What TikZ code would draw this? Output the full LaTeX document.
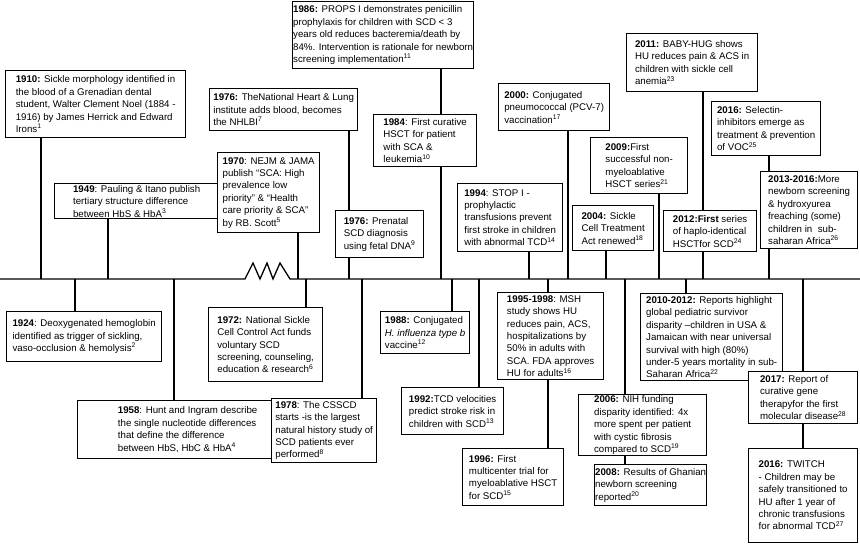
\documentclass[tikz,border=0pt]{standalone}
\usepackage{fontspec}
\setmainfont{Liberation Sans}
\newcommand\rf[1]{\textsuperscript{#1}}
\newcommand\evbox[6]{\node[box,minimum width={#4-#2},minimum height={#5-#3}] (#1) at (#2,#3) {#6};}
\begin{document}
\begin{tikzpicture}[x=1pt,y=-1pt,
  box/.style={draw, line width=1.3pt, fill=white, anchor=north west, inner sep=0pt, align=left, font=\fontsize{9.7}{12.4}\selectfont},
  link/.style={line width=1.3pt}]
\useasboundingbox (0,0) rectangle (860,555);
% timeline
\coordinate (tl0) at (0,279);
\coordinate (tlA) at (245,279);
\coordinate (tlB) at (290,279);
\coordinate (tl1) at (860,279);
\draw[link] (tl0) -- (tlA) -- ++(8,-16) -- ++(7,16) -- ++(7,-16) -- ++(6,16) -- ++(7,-16) -- (tlB) -- (tl1);
% attachment points
\coordinate (t1910) at (41,279);
\coordinate (t1949) at (108,279);
\coordinate (t1924) at (75,279);
\coordinate (t1958) at (174,279);
\coordinate (t1970) at (298,279);
\coordinate (t1972) at (306,279);
\coordinate (t1976) at (349,279);
\coordinate (t1978) at (362,279);
\coordinate (t1986) at (441,279);
\coordinate (t1988) at (452,279);
\coordinate (t1992) at (479,279);
\coordinate (t1994) at (529,279);
\coordinate (t1995) at (548,279);
\coordinate (t2000) at (568,279);
\coordinate (t2004) at (606,279);
\coordinate (t2006) at (625,279);
\coordinate (t2009) at (659,279);
\coordinate (t2010) at (686,279);
\coordinate (t2011) at (703,279);
\coordinate (t2016) at (769,279);
\coordinate (t2017) at (803,279);
% boxes
\evbox{b1910}{5}{70}{185}{137}{\textbf{1910:} Sickle morphology identified in\\the blood of a Grenadian dental\\student, Walter Clement Noel (1884 -\\1916) by James Herrick and Edward\\Irons\rf{1}}
\evbox{b1949}{54}{183}{218}{218}{\textbf{1949}: Pauling \& Itano publish\\tertiary structure difference\\between HbS \& HbA\rf{3}}
\evbox{b1924}{6}{311}{161}{361}{\textbf{1924}: Deoxygenated hemoglobin\\identified as trigger of sickling,\\vaso-occlusion \& hemolysis\rf{2}}
\evbox{b1958}{77}{400}{297}{458}{\textbf{1958}: Hunt and Ingram describe\\the single nucleotide differences\\that define the difference\\between HbS, HbC \& HbA\rf{4}}
\evbox{b1976a}{209}{88}{357}{130}{\textbf{1976:} TheNational Heart \& Lung\\institute adds blood, becomes\\the NHLBI\rf{7}}
\evbox{b1970}{217}{152}{319}{232}{\textbf{1970}: NEJM \& JAMA\\publish “SCA: High\\prevalence low\\priority” \& “Health\\care priority \& SCA”\\by RB. Scott\rf{5}}
\evbox{b1972}{208}{307}{322}{381}{\textbf{1972:} National Sickle\\Cell Control Act funds\\voluntary SCD\\screening, counseling,\\education \& research\rf{6}}
\evbox{b1978}{271}{398}{376}{462}{\textbf{1978}: The CSSCD\\starts -is the largest\\natural history study of\\SCD patients ever\\performed\rf{8}}
\evbox{b1976b}{335}{210}{423}{257}{\textbf{1976:} Prenatal\\SCD diagnosis\\using fetal DNA\rf{9}}
\evbox{b1986}{292}{1}{473}{68}{\textbf{1986:} PROPS I demonstrates penicillin\\prophylaxis for children with SCD < 3\\years old reduces bacteremia/death by\\84\%. Intervention is rationale for newborn\\screening implementation\rf{11}}
\evbox{b1984}{373}{114}{476}{166}{\textbf{1984}: First curative\\HSCT for patient\\with SCA \&\\leukemia\rf{10}}
\evbox{b1988}{380}{311}{469}{353}{\textbf{1988:} Conjugated\\\textit{H. influenza type b}\\vaccine\rf{12}}
\evbox{b1992}{401}{387}{503}{434}{\textbf{1992:}TCD velocities\\predict stroke risk in\\children with SCD\rf{13}}
\evbox{b1996}{462}{448}{563}{505}{\textbf{1996:} First\\multicenter trial for\\myeloablative HSCT\\for SCD\rf{15}}
\evbox{b1994}{457}{183}{562}{251}{\textbf{1994}: STOP I -\\prophylactic\\transfusions prevent\\first stroke in children\\with abnormal TCD\rf{14}}
\evbox{b1995}{497}{292}{603}{379}{\textbf{1995-1998}: MSH\\study shows HU\\reduces pain, ACS,\\hospitalizations by\\50\% in adults with\\SCA. FDA approves\\HU for adults\rf{16}}
\evbox{b2000}{498}{83}{609}{130}{\textbf{2000:} Conjugated\\pneumococcal (PCV-7)\\vaccination\rf{17}}
\evbox{b2004}{572}{205}{653}{250}{\textbf{2004:} Sickle\\Cell Treatment\\Act renewed\rf{18}}
\evbox{b2009}{590}{137}{687}{193}{\textbf{2009:}First\\successful non-\\myeloablative\\HSCT series\rf{21}}
\evbox{b2011}{626}{33}{757}{91}{\textbf{2011:} BABY-HUG shows\\HU reduces pain \& ACS in\\children with sickle cell\\anemia\rf{23}}
\evbox{b2012}{663}{210}{756}{251}{\textbf{2012:First} series\\of haplo-identical\\HSCTfor SCD\rf{24}}
\evbox{b2016a}{711}{101}{820}{155}{\textbf{2016:} Selectin-\\inhibitors emerge as\\treatment \& prevention\\of VOC\rf{25}}
\evbox{b2013}{760}{171}{857}{248}{\textbf{2013-2016:}More\\newborn screening\\\& hydroxyurea\\freaching (some)\\children in\ \ sub-\\saharan Africa\rf{26}}
\evbox{b2006}{578}{394}{706}{455}{\textbf{2006:} NIH funding\\disparity identified: 4x\\more spent per patient\\with cystic fibrosis\\compared to SCD\rf{19}}
\evbox{b2008}{594}{464}{706}{505}{\textbf{2008:} Results of Ghanian\\newborn screening\\reported\rf{20}}
\evbox{b2010}{640}{293}{782}{380}{\textbf{2010-2012:} Reports highlight\\global pediatric survivor\\disparity –children in USA \&\\Jamaican with near universal\\survival with high (80\%)\\under-5 years mortality in sub-\\Saharan Africa\rf{22}}
\evbox{b2017}{748}{371}{857}{423}{\textbf{2017:} Report of\\curative gene\\therapyfor the first\\molecular disease\rf{28}}
\evbox{b2016b}{748}{448}{857}{542}{\textbf{2016:} TWITCH\\- Children may be\\safely transitioned to\\HU after 1 year of\\chronic transfusions\\for abnormal TCD\rf{27}}
% connectors above the timeline
\draw[link] (t1910 |- b1910.south) -- (t1910);
\draw[link] (t1949 |- b1949.south) -- (t1949);
\draw[link] (t1970 |- b1970.south) -- (t1970);
\draw[link] (t1976 |- b1976a.south) -- (t1976 |- b1976b.north);
\draw[link] (t1976 |- b1976b.south) -- (t1976);
\draw[link] (t1986 |- b1986.south) -- (t1986 |- b1984.north);
\draw[link] (t1986 |- b1984.south) -- (t1986);
\draw[link] (t1994 |- b1994.south) -- (t1994);
\draw[link] (t2000 |- b2000.south) -- (t2000);
\draw[link] (t2004 |- b2004.south) -- (t2004);
\draw[link] (t2009 |- b2009.south) -- (t2009);
\draw[link] (t2011 |- b2011.south) -- (t2011 |- b2012.north);
\draw[link] (t2011 |- b2012.south) -- (t2011);
\draw[link] (t2016 |- b2016a.south) -- (t2016 |- b2013.north);
\draw[link] (t2016 |- b2013.south) -- (t2016);
% connectors below the timeline
\draw[link] (t1924) -- (t1924 |- b1924.north);
\draw[link] (t1958) -- (t1958 |- b1958.north);
\draw[link] (t1972) -- (t1972 |- b1972.north);
\draw[link] (t1978) -- (t1978 |- b1978.north);
\draw[link] (t1988) -- (t1988 |- b1988.north);
\draw[link] (t1992) -- (t1992 |- b1992.north);
\draw[link] (t1995) -- (t1995 |- b1995.north);
\draw[link] (t1995 |- b1995.south) -- (t1995 |- b1996.north);
\draw[link] (t2006) -- (t2006 |- b2006.north);
\draw[link] (t2006 |- b2006.south) -- (t2006 |- b2008.north);
\draw[link] (t2010) -- (t2010 |- b2010.north);
\draw[link] (t2017) -- (t2017 |- b2017.north);
\draw[link] (t2017 |- b2017.south) -- (t2017 |- b2016b.north);
\end{tikzpicture}
\end{document}
